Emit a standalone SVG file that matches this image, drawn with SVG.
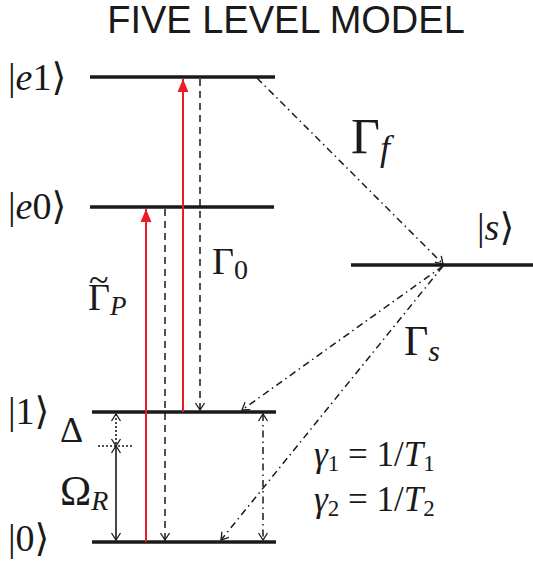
<svg xmlns="http://www.w3.org/2000/svg" width="533" height="564" viewBox="0 0 533 564">
<style>
.lvl{stroke:#1a1a1a;stroke-width:3.5;fill:none}
.red{stroke:#ec1c24;stroke-width:2;fill:none}
.dash{stroke:#1a1a1a;stroke-width:1.5;stroke-dasharray:7 5;fill:none}
.dd{stroke:#1a1a1a;stroke-width:1.5;stroke-dasharray:7 4 1.5 4;fill:none}
.dot{stroke:#1a1a1a;stroke-width:1.6;stroke-dasharray:2 2;fill:none}
.sol{stroke:#1a1a1a;stroke-width:1.6;fill:none}
.m{font-family:"Liberation Serif","DejaVu Serif",serif;fill:#1a1a1a}
.i{font-style:italic}
.title{font-family:"Liberation Sans",Arial,sans-serif;font-size:38px;fill:#1a1a1a}
</style>
<defs>
<marker id="ah" markerUnits="userSpaceOnUse" markerWidth="16" markerHeight="16" viewBox="-10 -8 12 16" refX="0" refY="0" orient="auto-start-reverse">
<path d="M-7,-4.5 L0,0 L-7,4.5" fill="none" stroke="#1a1a1a" stroke-width="1.3"/>
</marker>
<marker id="rh" markerUnits="userSpaceOnUse" markerWidth="16" markerHeight="16" viewBox="-14 -8 16 16" refX="0" refY="0" orient="auto">
<path d="M-13,-5.5 L0,0 L-13,5.5 Z" fill="#ec1c24"/>
</marker>
</defs>
<text class="title" x="286" y="33" text-anchor="middle">FIVE LEVEL MODEL</text>

<g id="level-e1"><line class="lvl" x1="90" y1="77" x2="275" y2="77"/><text class="m" x="8" y="90" font-size="38">|<tspan class="i">e</tspan>1⟩</text></g>
<g id="level-e0"><line class="lvl" x1="90" y1="207" x2="274" y2="207"/><text class="m" x="8" y="219" font-size="38">|<tspan class="i">e</tspan>0⟩</text></g>
<g id="level-s"><line class="lvl" x1="351" y1="265" x2="533" y2="265"/><text class="m" x="477" y="240" font-size="38">|<tspan class="i">s</tspan>⟩</text></g>
<g id="level-1"><line class="lvl" x1="92" y1="412" x2="276" y2="412"/><text class="m" x="8" y="424" font-size="38">|1⟩</text></g>
<g id="level-0"><line class="lvl" x1="92" y1="542" x2="276" y2="542"/><text class="m" x="8" y="551" font-size="38">|0⟩</text></g>

<g id="connectors">
<line class="red" x1="146" y1="542" x2="146" y2="209" marker-end="url(#rh)"/>
<line class="red" x1="183" y1="412" x2="183" y2="79" marker-end="url(#rh)"/>
<line class="dash" x1="165" y1="209" x2="165" y2="540" marker-end="url(#ah)"/>
<line class="dash" x1="200" y1="79" x2="200" y2="410" marker-end="url(#ah)"/>
<line class="dd" x1="257" y1="78" x2="443" y2="264" marker-end="url(#ah)"/>
<line class="dd" x1="443" y1="266" x2="242" y2="410" marker-end="url(#ah)"/>
<line class="dd" x1="443" y1="266" x2="221" y2="540" marker-end="url(#ah)"/>
<line class="dd" x1="263" y1="414" x2="263" y2="540" marker-start="url(#ah)" marker-end="url(#ah)"/>
<line class="dot" x1="116" y1="414" x2="116" y2="446" marker-start="url(#ah)" marker-end="url(#ah)"/>
<line class="dot" x1="98" y1="446" x2="134" y2="446"/>
<line class="sol" x1="116" y1="446" x2="116" y2="540" marker-start="url(#ah)" marker-end="url(#ah)"/>
</g>

<g id="labels">
<text class="m" x="212" y="274" font-size="38">Γ<tspan font-size="28" dy="5">0</tspan></text>
<text class="m" x="88" y="310" font-size="38">Γ<tspan class="i" font-size="27" dy="5">P</tspan><tspan x="89" y="292" font-size="36">~</tspan></text>
<text class="m" x="351" y="153" font-size="50">Γ<tspan class="i" font-size="36" dy="7">f</tspan></text>
<text class="m" x="404" y="355" font-size="42">Γ<tspan class="i" font-size="30" dy="6">s</tspan></text>
<text class="m" x="60" y="442" font-size="36">Δ</text>
<text class="m" x="60" y="505" font-size="42">Ω<tspan class="i" font-size="28" dy="5">R</tspan></text>
<text class="m" x="314" y="466" font-size="35" fill="#333"><tspan class="i">γ</tspan><tspan font-size="23" dy="5">1</tspan><tspan dy="-5"> = 1/</tspan><tspan class="i">T</tspan><tspan font-size="23" dy="5">1</tspan></text>
<text class="m" x="314" y="511" font-size="35" fill="#333"><tspan class="i">γ</tspan><tspan font-size="23" dy="5">2</tspan><tspan dy="-5"> = 1/</tspan><tspan class="i">T</tspan><tspan font-size="23" dy="5">2</tspan></text>
</g>
</svg>
